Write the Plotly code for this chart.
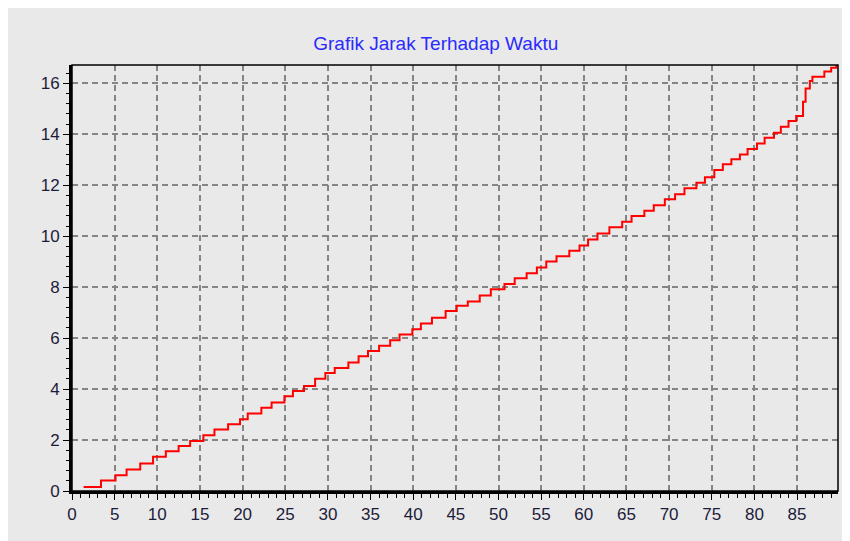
import plotly.graph_objects as go

# waktu (x) and jarak (y): staircase, each y holds until the next x
waktu = [1.36, 3.4, 5.1, 6.4, 8.0, 9.5, 11.0, 12.5, 13.85, 15.4, 16.7, 18.3, 19.7, 20.6,
         22.2, 23.4, 24.9, 25.9, 27.2, 28.5, 29.7, 30.8, 32.4, 33.6, 34.7, 36.0, 37.3,
         38.4, 39.9, 40.9, 42.2, 43.8, 45.1, 46.4, 47.8, 49.1, 50.7, 51.9, 53.3, 54.5,
         55.6, 56.8, 58.3, 59.5, 60.5, 61.6, 63.0, 64.5, 65.6, 67.1, 68.2, 69.5, 70.7,
         71.8, 73.2, 74.2, 75.3, 76.3, 77.3, 78.3, 79.2, 80.3, 81.2, 82.3, 83.1, 84.0,
         84.9, 85.7, 86.0, 86.5, 86.8, 88.2, 89.0, 89.6, 89.9]
jarak = [0.16, 0.41, 0.62, 0.84, 1.08, 1.34, 1.56, 1.77, 1.96, 2.19, 2.41, 2.62, 2.82, 3.04,
         3.27, 3.47, 3.72, 3.92, 4.12, 4.41, 4.63, 4.83, 5.04, 5.29, 5.49, 5.70, 5.92,
         6.14, 6.35, 6.57, 6.80, 7.06, 7.27, 7.44, 7.67, 7.92, 8.12, 8.35, 8.55, 8.77,
         9.01, 9.21, 9.43, 9.64, 9.87, 10.11, 10.35, 10.57, 10.79, 11.00, 11.22, 11.45, 11.65,
         11.88, 12.10, 12.31, 12.60, 12.82, 13.02, 13.21, 13.42, 13.64, 13.86, 14.06, 14.30, 14.52,
         14.72, 15.28, 15.80, 16.09, 16.26, 16.46, 16.61, 16.72, 16.75]

x_ticks = list(range(0, 90, 5))
y_ticks = list(range(0, 17, 2))

bg = '#e9e9e9'

fig = go.Figure(go.Scatter(
    x=waktu, y=jarak,
    mode='lines',
    line=dict(color='#ff0000', width=2, shape='hv'),
    hoverinfo='skip'
))

axis_common = dict(
    showline=True, linecolor='black', linewidth=3,
    ticks='outside', ticklen=6, tickwidth=1, tickcolor='black',
    showgrid=True, gridcolor='#858585', gridwidth=1.5, griddash='6px,4px',
    zeroline=False,
    tickfont=dict(family='Liberation Sans, Arial', size=17, color='#1c1c3a'),
)

fig.update_xaxes(
    range=[0, 89.8], tickvals=x_ticks,
    minor=dict(dtick=1, ticks='outside', ticklen=4, tickcolor='black', showgrid=False),
    **axis_common
)
fig.update_yaxes(
    range=[0, 16.72], tickvals=y_ticks,
    minor=dict(dtick=0.4, ticks='outside', ticklen=3, tickcolor='black', showgrid=False),
    **axis_common
)

fig.update_layout(
    width=842, height=533,
    margin=dict(l=64, r=12, t=57, b=50),
    paper_bgcolor=bg,
    plot_bgcolor=bg,
    showlegend=False,
    title=dict(
        text='Grafik Jarak Terhadap Waktu',
        x=0.508, xanchor='center', y=0.934, yanchor='middle',
        font=dict(family='Liberation Sans, Arial', size=19, color='#2b2bff')
    ),
    shapes=[
        # thin top/right border of the plot box
        dict(type='rect', xref='paper', yref='paper', layer='above',
             x0=0, x1=1, y0=0, y1=1,
             line=dict(color='black', width=1.5)),
    ]
)

fig.write_html("out.html")
